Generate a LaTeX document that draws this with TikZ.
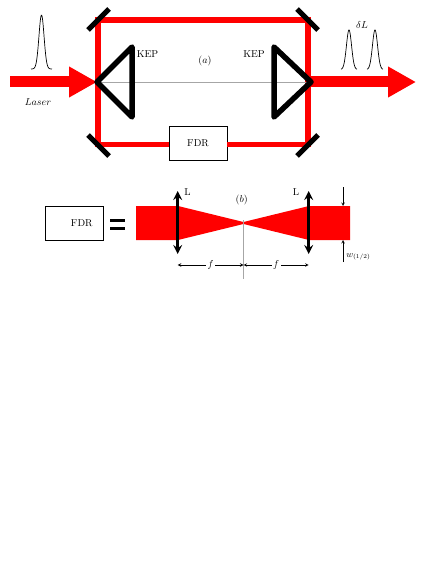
\documentclass[tikz,border=0pt]{standalone}
\usetikzlibrary{arrows.meta}
\begin{document}
\begin{tikzpicture}[x=1pt, y=-1pt,
	beam/.style={draw=red, line width=5.5pt},
	bigarrow/.style={draw=red, line width=11pt, -{Triangle[length=28pt,width=29pt]}},
	mirror/.style={draw=black, line width=5pt},
	prism/.style={draw=black, line width=5.5pt, line join=round},
	axis/.style={draw=black!35, line width=0.9pt},
	box/.style={rectangle, draw=black, line width=0.9pt, minimum width=58pt, minimum height=34pt, inner sep=0pt},
	lens/.style={draw=black, line width=2.9pt, <->, >=stealth},
	dim/.style={draw=black, line width=0.6pt, <->, >=stealth},
	pointer/.style={draw=black, line width=0.6pt, ->, >=stealth}]
	
	\useasboundingbox (0,0) rectangle (436,564);
	
	% cavity
	\node (fdrA) [box] at (198,143) {FDR};
	\coordinate (tl) at (98,20);
	\coordinate (tr) at (308,20);
	\coordinate (bl) at (98,144.5);
	\coordinate (br) at (308,144.5);
	\coordinate (in) at (10,82);
	\coordinate (tipin) at (97,82);
	\coordinate (tipL) at (97,82);
	\coordinate (tipR) at (311,82);
	\coordinate (outstart) at (308,82);
	\coordinate (out) at (416,82);
	
	\draw [beam] (fdrA.west |- bl) -- (bl) -- (tl) -- (tr) -- (br) -- (fdrA.east |- br);
	\draw [axis] (tipL) -- (tipR);
	\draw [bigarrow] (in) -- (tipin);
	\draw [bigarrow] (outstart) -- (out);
	
	\draw [prism] (tipL) -- (132,47) -- (132,117) -- cycle;
	\draw [prism] (tipR) -- (274,47) -- (274,117) -- cycle;
	
	\draw [mirror] (88,30) -- (109,9);
	\draw [mirror] (297,9) -- (318,30);
	\draw [mirror] (88,135) -- (109,156);
	\draw [mirror] (318,135) -- (297,156);
	
	% pulses
	\foreach \cx/\base/\peak/\halfw in {41.5/69/15/10.5, 349/69.5/30/8, 375/69.5/30/8}
		\draw [line width=0.7pt, smooth] plot [domain=-\halfw:\halfw, samples=50] ({\cx+\x}, {\base-(\base-\peak)*exp(-\x*\x/13)});
	
	\node (laser) at (38,102) {$Laser$};
	\node (keptL) at (147.5,54) {KEP};
	\node (keptR) at (254,54) {KEP};
	\node (labela) at (205,61) {$(a)$};
	\node (delta) at (362,25) {$\delta L$};
	
	% lower part
	\node (fdrB) [box, text width=37pt, align=right] at (74,223) {FDR};
	\draw [line width=2.5pt] (110,220.7) -- (125,220.7);
	\draw [line width=2.5pt] (110,228.3) -- (125,228.3);
	
	\fill [red] (136,206) -- (178,206) -- (243.5,222) -- (309,206) -- (350,206) -- (350,240) -- (309,240) -- (243.5,224) -- (178,240) -- (136,240) -- cycle;
	
	\coordinate (lensLtop) at (177.7,191);
	\coordinate (lensLbot) at (177.7,254);
	\coordinate (lensRtop) at (308.7,191);
	\coordinate (lensRbot) at (308.7,254);
	\draw [lens] (lensLtop) -- (lensLbot);
	\draw [lens] (lensRtop) -- (lensRbot);
	
	\coordinate (axistop) at (243.5,220);
	\coordinate (axisbot) at (243.5,279);
	\draw [axis] (axistop) -- (axisbot);
	
	\coordinate (dimL) at (177.7,265);
	\coordinate (dimM) at (243.5,265);
	\coordinate (dimR) at (308.7,265);
	\draw [dim] (dimL) -- node [fill=white, inner sep=1.5pt] {$f$} (dimM);
	\draw [dim] (dimM) -- node [fill=white, inner sep=1.5pt] {$f$} (dimR);
	
	\coordinate (wtopstart) at (343,187);
	\coordinate (wtopend) at (343,206);
	\coordinate (wbotstart) at (343,262);
	\coordinate (wbotend) at (343,240);
	\draw [pointer] (wtopstart) -- (wtopend);
	\draw [pointer] (wbotstart) -- (wbotend);
	
	\node (lensLlabel) at (187.5,192) {L};
	\node (lensRlabel) at (296,192) {L};
	\node (labelb) at (241.7,200) {$(b)$};
	\node (waist) at (358.5,257) {\small $w_{(1/2)}$};
\end{tikzpicture}
\end{document}
